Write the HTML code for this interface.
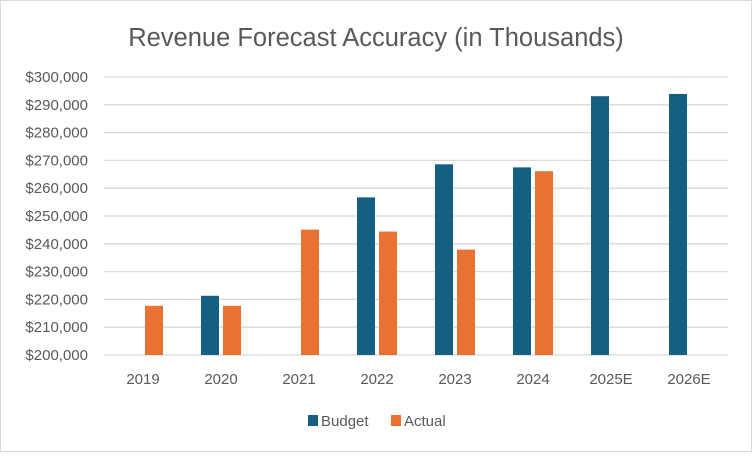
<!DOCTYPE html>
<html><head><meta charset="utf-8"><style>
body{margin:0;background:#fff;}
svg text{font-family:"Liberation Sans",sans-serif;fill:#595959;}
</style></head><body>
<svg id="chart" width="752" height="452">
<rect x="0.5" y="0.5" width="751" height="451" fill="#fff" stroke="#d9d9d9"/>
<text x="376" y="46" text-anchor="middle" font-size="25.5">Revenue Forecast Accuracy (in Thousands)</text>
<g id="grid"></g><g id="bars"></g><g id="labels"></g>
<g>
<rect x="308" y="415" width="10" height="11" fill="#156082"/>
<text x="321" y="426" font-size="15">Budget</text>
<rect x="391" y="415" width="10" height="11" fill="#e97132"/>
<text x="404" y="426" font-size="15">Actual</text>
</g>
</svg>
<script>
const categories=["2019","2020","2021","2022","2023","2024","2025E","2026E"];
const budget=[null,221300,null,256700,268600,267500,293100,293900];
const actual=[217700,217700,245100,244400,237900,266100,null,null];
const yTicks=[200000,210000,220000,230000,240000,250000,260000,270000,280000,290000,300000];
const NS="http://www.w3.org/2000/svg";
const x0=104,x1=728,yMin=200000,yMax=300000,py0=355,py1=77;
const step=(x1-x0)/categories.length;
function y(v){return py0-(v-yMin)/(yMax-yMin)*(py0-py1);}
function cx(i){return x0+step*(i+0.5);}
function mk(t,a,p){const e=document.createElementNS(NS,t);for(const k in a)e.setAttribute(k,a[k]);p.appendChild(e);return e;}
const g=document.getElementById('grid'),b=document.getElementById('bars'),l=document.getElementById('labels');
yTicks.forEach(v=>{
 const ln=mk('line',{x1:x0,x2:x1,y1:y(v),y2:y(v),stroke:'#d9d9d9','stroke-width':1.3},g);
 
 
 const t=mk('text',{x:88,y:y(v)+5,'text-anchor':'end','font-size':15},l);
 t.textContent='$'+v.toLocaleString('en-US');
 
 
});
categories.forEach((c,i)=>{
 const t=mk('text',{x:cx(i),y:384,'text-anchor':'middle','font-size':15},l);
 t.textContent=c;
 
 
 if(budget[i]!=null){
  const r=mk('rect',{x:cx(i)-20,y:y(budget[i]),width:18,height:py0-y(budget[i]),fill:'#156082'},b);
  
  
 }
 if(actual[i]!=null){
  const r=mk('rect',{x:cx(i)+2,y:y(actual[i]),width:18,height:py0-y(actual[i]),fill:'#e97132'},b);
  
  
 }
});
</script>
</body></html>
